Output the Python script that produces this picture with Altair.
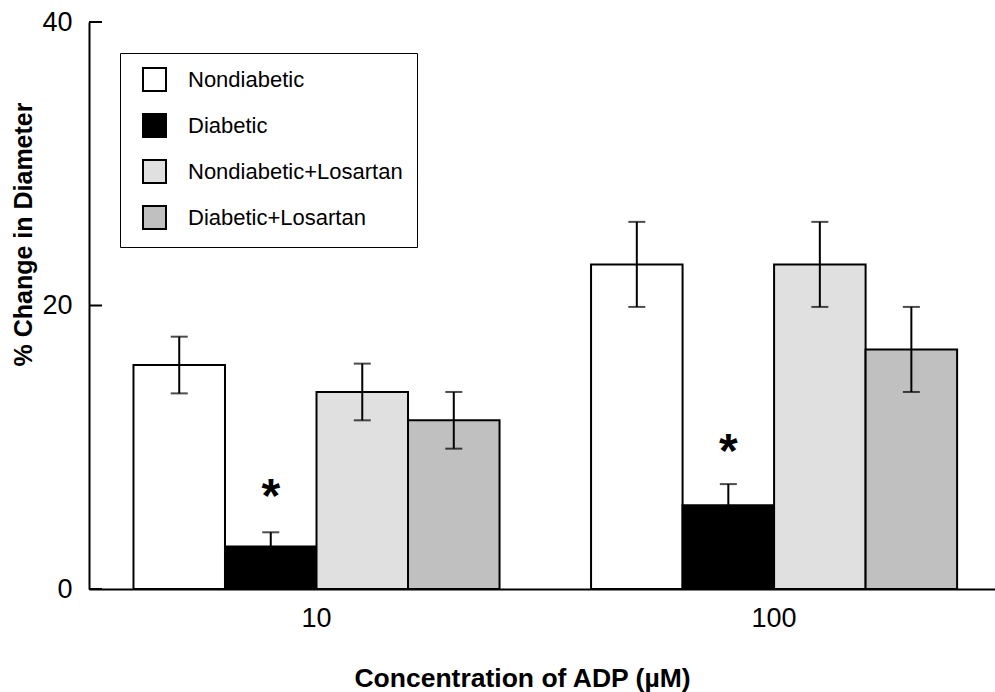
import altair as alt
import pandas as pd

# ---- data ----
groups = ["Nondiabetic", "Diabetic", "Nondiabetic+Losartan", "Diabetic+Losartan"]
concs = ["10", "100"]
means_10 = [15.8, 3.0, 13.9, 11.9]
sem_10 = [2.0, 1.0, 2.0, 2.0]
means_100 = [22.9, 5.9, 22.9, 16.9]
sem_100 = [3.0, 1.5, 3.0, 3.0]
fills = ["#ffffff", "#000000", "#e0e0e0", "#c0c0c0"]

star_conc = ["10", "100"]
star_group = ["Diabetic", "Diabetic"]
star_y = [7.1, 10.3]

y_ticks = [0, 20, 40]

rows = []
for c, ms, ss in [("10", means_10, sem_10), ("100", means_100, sem_100)]:
    for g, m, s in zip(groups, ms, ss):
        rows.append({"conc": c, "group": g, "mean": m, "lo": m - s, "hi": m + s})
df = pd.DataFrame(rows)
stars = pd.DataFrame({"conc": star_conc, "group": star_group, "y": star_y, "t": ["*", "*"]})
ticks = pd.DataFrame({"v": y_ticks})

FONT = "Liberation Sans"

xscale = alt.Scale(domain=concs, paddingInner=0.2, paddingOuter=0.09, align=0.54)
xoff_scale = alt.Scale(domain=groups, paddingInner=0, paddingOuter=0)
yscale = alt.Scale(domain=[0, 40], nice=False)

x_axis = alt.Axis(title="Concentration of ADP (µM)", labelAngle=0, ticks=False,
                  labelPadding=16, labelFontSize=27, titleFontSize=26.5,
                  titleX=433, titleY=97, titleAlign="center", titleBaseline="alphabetic")
y_axis = alt.Axis(title="% Change in Diameter", values=y_ticks, ticks=False,
                  labelPadding=17, labelFontSize=27, titleFontSize=25, grid=False,
                  titleX=-58, titleY=212, titleBaseline="alphabetic", titleAlign="center")


def X():
    return alt.X("conc:N", scale=xscale, sort=concs, axis=x_axis)


def XO():
    return alt.XOffset("group:N", sort=groups, scale=xoff_scale)


def Y(field):
    return alt.Y(field, scale=yscale, axis=y_axis)


base = alt.Chart(df)

bars = base.mark_bar(stroke="black", strokeWidth=2).encode(
    x=X(),
    xOffset=XO(),
    y=Y("mean:Q"),
    fill=alt.Fill("group:N", sort=groups,
                  scale=alt.Scale(domain=groups, range=fills),
                  legend=alt.Legend(title=None, orient="none", legendX=31, legendY=31,
                                    symbolType="square", symbolSize=529,
                                    symbolStrokeColor="black", symbolStrokeWidth=2,
                                    labelFontSize=22, labelFont=FONT, labelOffset=21,
                                    labelLimit=500,
                                    rowPadding=15, padding=14, symbolOffset=8,
                                    strokeColor="black", fillColor="white",
                                    labelColor="black")),
)

err = base.mark_rule(color="black", strokeWidth=2).encode(
    x=X(), xOffset=XO(), y=Y("lo:Q"), y2="hi:Q",
)
cap_hi = base.mark_tick(color="black", thickness=2, size=17, orient="horizontal").encode(
    x=X(), xOffset=XO(), y=Y("hi:Q"),
)
cap_lo = base.mark_tick(color="black", thickness=2, size=17, orient="horizontal").encode(
    x=X(), xOffset=XO(), y=Y("lo:Q"),
)

star_layer = alt.Chart(stars).mark_text(fontSize=48, fontWeight="bold", font=FONT,
                                        baseline="middle", align="center", dy=10,
                                        color="black").encode(
    x=X(), xOffset=XO(), y=Y("y:Q"), text="t:N",
)

tick_layer = alt.Chart(ticks).mark_rule(color="black", strokeWidth=2).encode(
    y=Y("v:Q"),
    x=alt.value(0),
    x2=alt.value(13),
)

chart = alt.layer(bars, err, cap_hi, cap_lo, star_layer, tick_layer).properties(
    width=906, height=567,
    padding={"left": 89, "top": 22, "right": 0, "bottom": 103},
    autosize=alt.AutoSizeParams(type="none"),
    background="white",
).configure_view(stroke=None).configure_axis(
    domainColor="black", domainWidth=2, labelFont=FONT, titleFont=FONT,
    labelColor="black", titleColor="black", titleFontWeight="bold",
)

chart.save("out.html", embed_options={"renderer": "svg", "actions": False})
